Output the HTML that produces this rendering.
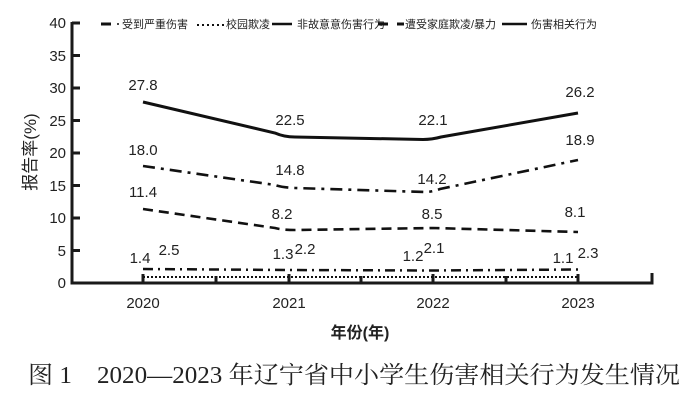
<!DOCTYPE html>
<html><head><meta charset="utf-8"><style>
body{margin:0;background:#fff;}
svg text{font-family:"Liberation Sans","Noto Sans CJK SC",sans-serif;fill:#222;}
</style></head><body>
<svg width="700" height="400" viewBox="0 0 700 400" xmlns="http://www.w3.org/2000/svg">
<g stroke="#1a1a1a" stroke-width="3" fill="none">
<path d="M72,22 V283 H652 V273"/>
<path d="M72,23 h8 M72,55.5 h8 M72,88 h8 M72,120.5 h8 M72,153 h8 M72,185.5 h8 M72,218 h8 M72,250.5 h8"/>
<path d="M143,283 v-9 M216,283 v-7 M289,283 v-9 M361,283 v-7 M433,283 v-9 M506,283 v-7 M578,283 v-9"/>
</g>
<g font-size="15" text-anchor="end">
<text x="66" y="28">40</text><text x="66" y="61">35</text><text x="66" y="93">30</text><text x="66" y="126">25</text><text x="66" y="158">20</text><text x="66" y="191">15</text><text x="66" y="223">10</text><text x="66" y="256">5</text><text x="66" y="288">0</text>
</g>
<g font-size="15" text-anchor="middle">
<text x="143" y="308">2020</text><text x="289" y="308">2021</text><text x="433" y="308">2022</text><text x="578" y="308">2023</text>
</g>
<text x="360" y="338" font-size="16" text-anchor="middle" font-weight="bold">年份(年)</text>
<text transform="translate(36,152) rotate(-90)" font-size="17" text-anchor="middle">报告率(%)</text>
<g fill="none" stroke="#111">
<path d="M143,102 L275,133 Q284,137 295,137 L423,139.5 Q432,139.5 441,137 L578,113" stroke-width="3"/>
<path d="M143,166 L275,185 Q282,187.5 295,188 L425,192 Q432,192 440,189 L578,160" stroke-width="2.6" stroke-dasharray="12,6,3,6"/>
<path d="M143,209 L275,228 Q282,230 295,230 L433,228 L578,232" stroke-width="2.6" stroke-dasharray="10,6"/>
<path d="M143,269 L289,270 L433,270.5 L578,269.5" stroke-width="2.5" stroke-dasharray="10,5,2,5"/>
<path d="M143,277 L578,277" stroke-width="2" stroke-dasharray="2,2"/>
</g>
<g font-size="15" text-anchor="middle">
<text x="143" y="90">27.8</text><text x="290" y="125">22.5</text><text x="433" y="125">22.1</text><text x="580" y="97">26.2</text>
<text x="143" y="155">18.0</text><text x="290" y="175">14.8</text><text x="432" y="184">14.2</text><text x="580" y="145">18.9</text>
<text x="143" y="197">11.4</text><text x="282" y="219">8.2</text><text x="432" y="219">8.5</text><text x="575" y="217">8.1</text>
<text x="140" y="263">1.4</text><text x="169" y="255">2.5</text><text x="283" y="259">1.3</text><text x="305" y="254">2.2</text><text x="413" y="261">1.2</text><text x="434" y="253">2.1</text><text x="563" y="263">1.1</text><text x="588" y="258">2.3</text>
</g>
<g font-size="11">
<line x1="101" y1="24" x2="111" y2="24" stroke="#111" stroke-width="3"/><circle cx="118" cy="24" r="1" fill="#111"/>
<text x="122" y="28">受到严重伤害</text>
<line x1="197" y1="25" x2="224" y2="25" stroke="#111" stroke-width="2" stroke-dasharray="2,3"/>
<text x="226" y="28">校园欺凌</text>
<line x1="272" y1="24" x2="292" y2="24" stroke="#111" stroke-width="2.5"/>
<text x="297" y="28">非故意意伤害行为</text>
<line x1="378" y1="24" x2="388" y2="24" stroke="#111" stroke-width="3"/><line x1="397" y1="24" x2="404" y2="24" stroke="#111" stroke-width="3"/>
<text x="405" y="28">遭受家庭欺凌/暴力</text>
<line x1="502" y1="24" x2="527" y2="24" stroke="#111" stroke-width="2.5"/>
<text x="531" y="28">伤害相关行为</text>
</g>
<text x="28" y="383" font-size="24" textLength="652" lengthAdjust="spacingAndGlyphs" style="font-family:'Liberation Serif','Noto Serif CJK SC',serif">图 1　2020—2023 年辽宁省中小学生伤害相关行为发生情况</text>
</svg>
</body></html>
